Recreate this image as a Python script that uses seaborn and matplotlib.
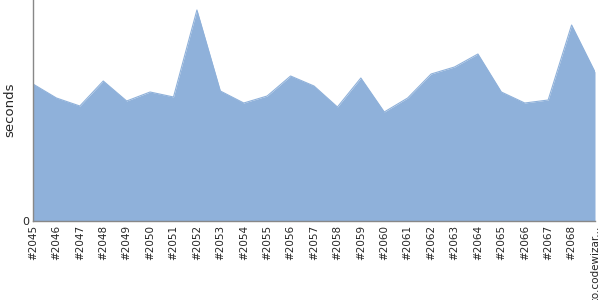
import matplotlib
matplotlib.use("Agg")
import matplotlib.pyplot as plt
import seaborn as sns
import pandas as pd

builds = ["#2045", "#2046", "#2047", "#2048", "#2049", "#2050", "#2051", "#2052",
          "#2053", "#2054", "#2055", "#2056", "#2057", "#2058", "#2059", "#2060",
          "#2061", "#2062", "#2063", "#2064", "#2065", "#2066", "#2067", "#2068",
          "co.codewizar..."]
seconds = [13.7, 12.3, 11.5, 14.0, 12.0, 12.9, 12.4, 21.1,
           13.0, 11.8, 12.5, 14.5, 13.5, 11.4, 14.3, 10.9,
           12.3, 14.7, 15.4, 16.7, 12.9, 11.8, 12.1, 19.6,
           14.9]

df = pd.DataFrame({"build": builds, "seconds": seconds})
df["pos"] = range(len(df))

sns.set_style("white")
fig = plt.figure(figsize=(6, 3), dpi=100)
ax = fig.add_axes([33 / 600, 1 - 221 / 300, (595 - 33) / 600, 221 / 300])

color = "#8FB1DA"
ax.fill_between(df["pos"], 0, df["seconds"], color=color, linewidth=0)
sns.lineplot(data=df, x="pos", y="seconds", ax=ax, color=color, linewidth=0.8)

ax.set_xlim(0, len(df) - 1)
ax.set_ylim(0, 22.1)
ax.set_xticks(df["pos"])
ax.set_xticklabels(df["build"], rotation=90, fontsize=7.5)
ax.set_yticks([0])
ax.set_yticklabels(["0"], fontsize=8)
ax.set_xlabel("")
ax.set_ylabel("seconds", fontsize=9.5)
ax.yaxis.set_label_coords(-17 / 562, (221 - 110) / 221)
ax.tick_params(axis="both", length=0, pad=3)
for s in ["top", "right"]:
    ax.spines[s].set_visible(False)
for s in ["left", "bottom"]:
    ax.spines[s].set_color("#888888")
    ax.spines[s].set_linewidth(1)

fig.savefig("out.png", dpi=100)
